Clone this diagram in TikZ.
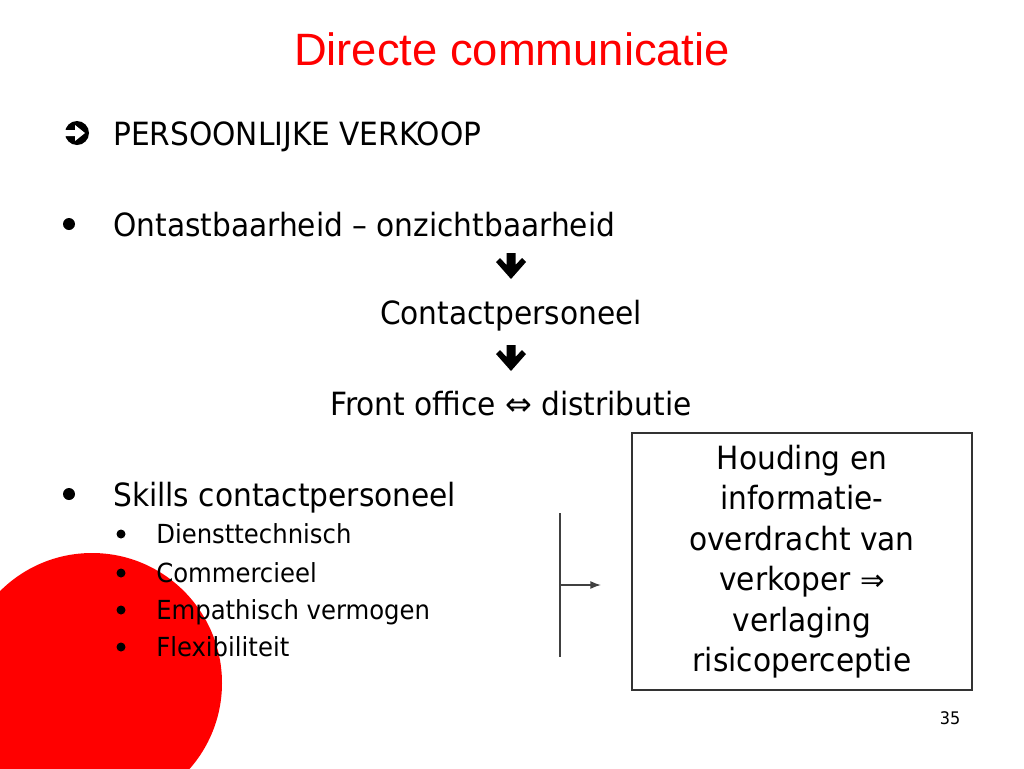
\documentclass[tikz,border=0pt]{standalone}
\usepackage{fontspec}
\setmainfont{DejaVu Sans Condensed}[FakeStretch=1.03]
\newfontfamily\titlefont{Liberation Sans}
\newfontfamily\symfont{DejaVu Sans}
\usetikzlibrary{arrows.meta}
\definecolor{slidered}{RGB}{255,0,0}
\begin{document}
\begin{tikzpicture}[x=0.75pt,y=-0.75pt,
  txt/.style={inner sep=0pt,anchor=base west,font=\fontsize{24}{29}\selectfont},
  subtxt/.style={inner sep=0pt,anchor=base west,font=\fontsize{19.7}{24}\selectfont},
  ctr/.style={inner sep=0pt,anchor=base,font=\fontsize{24}{29}\selectfont},
  bul/.style={fill=black,draw=none},
  heavyarrow/.style={fill=black,draw=none},
  conn/.style={draw=black!75,line width=1.1pt}]
\useasboundingbox (0,0) rectangle (1024,768);
\fill[white] (0,0) rectangle (1024,768);
% red circle
\fill[slidered] (92,683) circle[radius=130];
% title
\node[inner sep=0pt,anchor=base,text=slidered,font=\titlefont\fontsize{34}{40}\selectfont] (title) at (512,65) {Directe communicatie};
% top symbol
\fill[black] (77,133) circle[radius=12];
\fill[white] (64,130) -- (75,130) -- (75,125) -- (85,133) -- (75,141) -- (75,136) -- (64,136) -- cycle;
\node[txt] (pv) at (113,145) {PERSOONLIJKE VERKOOP};
% bullet 1
\fill[bul] (69,224) circle[radius=6];
\node[txt] (ont) at (113,236) {Ontastbaarheid – onzichtbaarheid};
\fill[heavyarrow] (506.5,253) -- (515.5,253) -- (515.5,265) -- (522,258) -- (526,262) -- (511,279) -- (496,262) -- (500,258) -- (506.5,265) -- cycle;
\node[ctr] (cp) at (511,324) {Contactpersoneel};
\fill[heavyarrow] (506.5,345) -- (515.5,345) -- (515.5,357) -- (522,350) -- (526,354) -- (511,371) -- (496,354) -- (500,350) -- (506.5,357) -- cycle;
\node[ctr] (fo) at (511,415) {Front office {\symfont\fontsize{24}{29}\selectfont ⇔} distributie};
% bullet 2
\fill[bul] (69,494) circle[radius=6];
\node[txt] (sk) at (113,506) {Skills contactpersoneel};
\fill[bul] (121,534) circle[radius=4.5];
\node[subtxt] (s1) at (156,543) {Diensttechnisch};
\fill[bul] (121,573) circle[radius=4.5];
\node[subtxt] (s2) at (156,582) {Commercieel};
\fill[bul] (121,610) circle[radius=4.5];
\node[subtxt] (s3) at (156,619) {Empathisch vermogen};
\fill[bul] (121,647) circle[radius=4.5];
\node[subtxt] (s4) at (156,656) {Flexibiliteit};
% connector
\coordinate (vtop) at (560,513);
\coordinate (vbot) at (560,657);
\coordinate (vmid) at (560,585);
\coordinate (aend) at (601,585);
\draw[conn] (vtop) -- (vbot);
\draw[conn,-{Latex[length=8pt,width=6pt]}] (vmid) -- (aend);
% box
\node[draw=black!80,line width=0.8pt,minimum width=255pt,minimum height=192.75pt,inner sep=0pt,align=center,
  font=\fontsize{24}{30.4}\selectfont] (box) at (802,561.5)
  {Houding en\\informatie-\\overdracht van\\verkoper {\symfont\fontsize{22}{26}\selectfont ⇒}\\verlaging\\risicoperceptie};
% page number
\node[inner sep=0pt,anchor=base,font=\fontsize{13}{16}\selectfont] (pn) at (950,724) {35};
\end{tikzpicture}
\end{document}
